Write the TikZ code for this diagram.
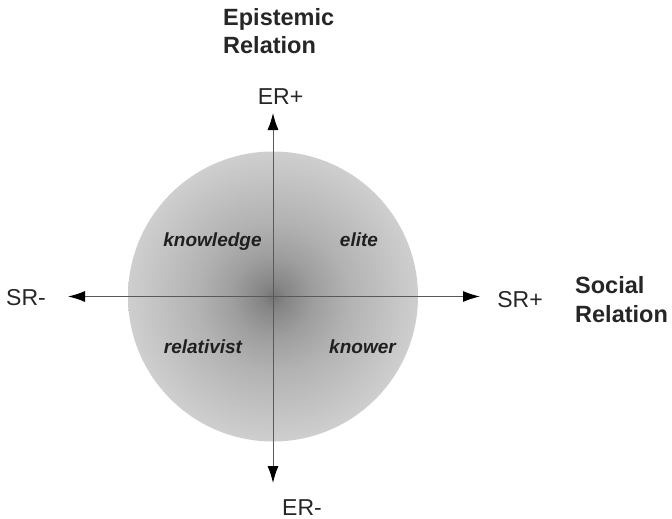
\documentclass[tikz,border=0pt]{standalone}
\usepackage{fontspec}
\setmainfont{Liberation Sans}
\usetikzlibrary{arrows.meta}
\pgfdeclareradialshading{sphereshade}{\pgfpoint{0bp}{0bp}}{color(0bp)=(black!55); color(2bp)=(black!48); color(7bp)=(black!38); color(13bp)=(black!30); color(25bp)=(black!19); color(50bp)=(black!19)}
\begin{document}
\begin{tikzpicture}[x=1pt,y=-1pt,
  axis/.style={draw=black!65, line width=1pt, {Latex[length=17pt,width=11pt,black]}-{Latex[length=17pt,width=11pt,black]}},
  axlabel/.style={font=\fontsize{23}{26}\selectfont, text=black!85, inner sep=0pt, anchor=base},
  title/.style={font=\fontsize{23.5}{28}\bfseries\selectfont, text=black!85, inner sep=0pt, anchor=base west},
  quad/.style={font=\fontsize{19}{22}\bfseries\itshape\selectfont, text=black!88, inner sep=0pt, anchor=base}]
\useasboundingbox (0,0) rectangle (672,519);
\fill[white] (0,0) rectangle (672,519);
\shade[shading=sphereshade] (273,296.5) circle (145);
\coordinate (top) at (273,113);
\coordinate (bot) at (273,483);
\coordinate (lft) at (68,296.5);
\coordinate (rgt) at (480,296.5);
\draw[axis] (bot) -- (top);
\draw[axis] (lft) -- (rgt);
\node[axlabel] (erp) at (280.5,104) {ER+};
\node[axlabel] (erm) at (302,515) {ER-};
\node[axlabel] (srm) at (26,305) {SR-};
\node[axlabel] (srp) at (520,307) {SR+};
\node[title] (ert1) at (223,26) {Epistemic};
\node[title] (ert2) at (223,54) {Relation};
\node[title] (srt1) at (575,293) {Social};
\node[title] (srt2) at (575,322) {Relation};
\node[quad] (q1) at (212.5,246) {knowledge};
\node[quad] (q2) at (359,246) {elite};
\node[quad] (q3) at (203,353) {relativist};
\node[quad] (q4) at (362.5,353) {knower};
\end{tikzpicture}
\end{document}
